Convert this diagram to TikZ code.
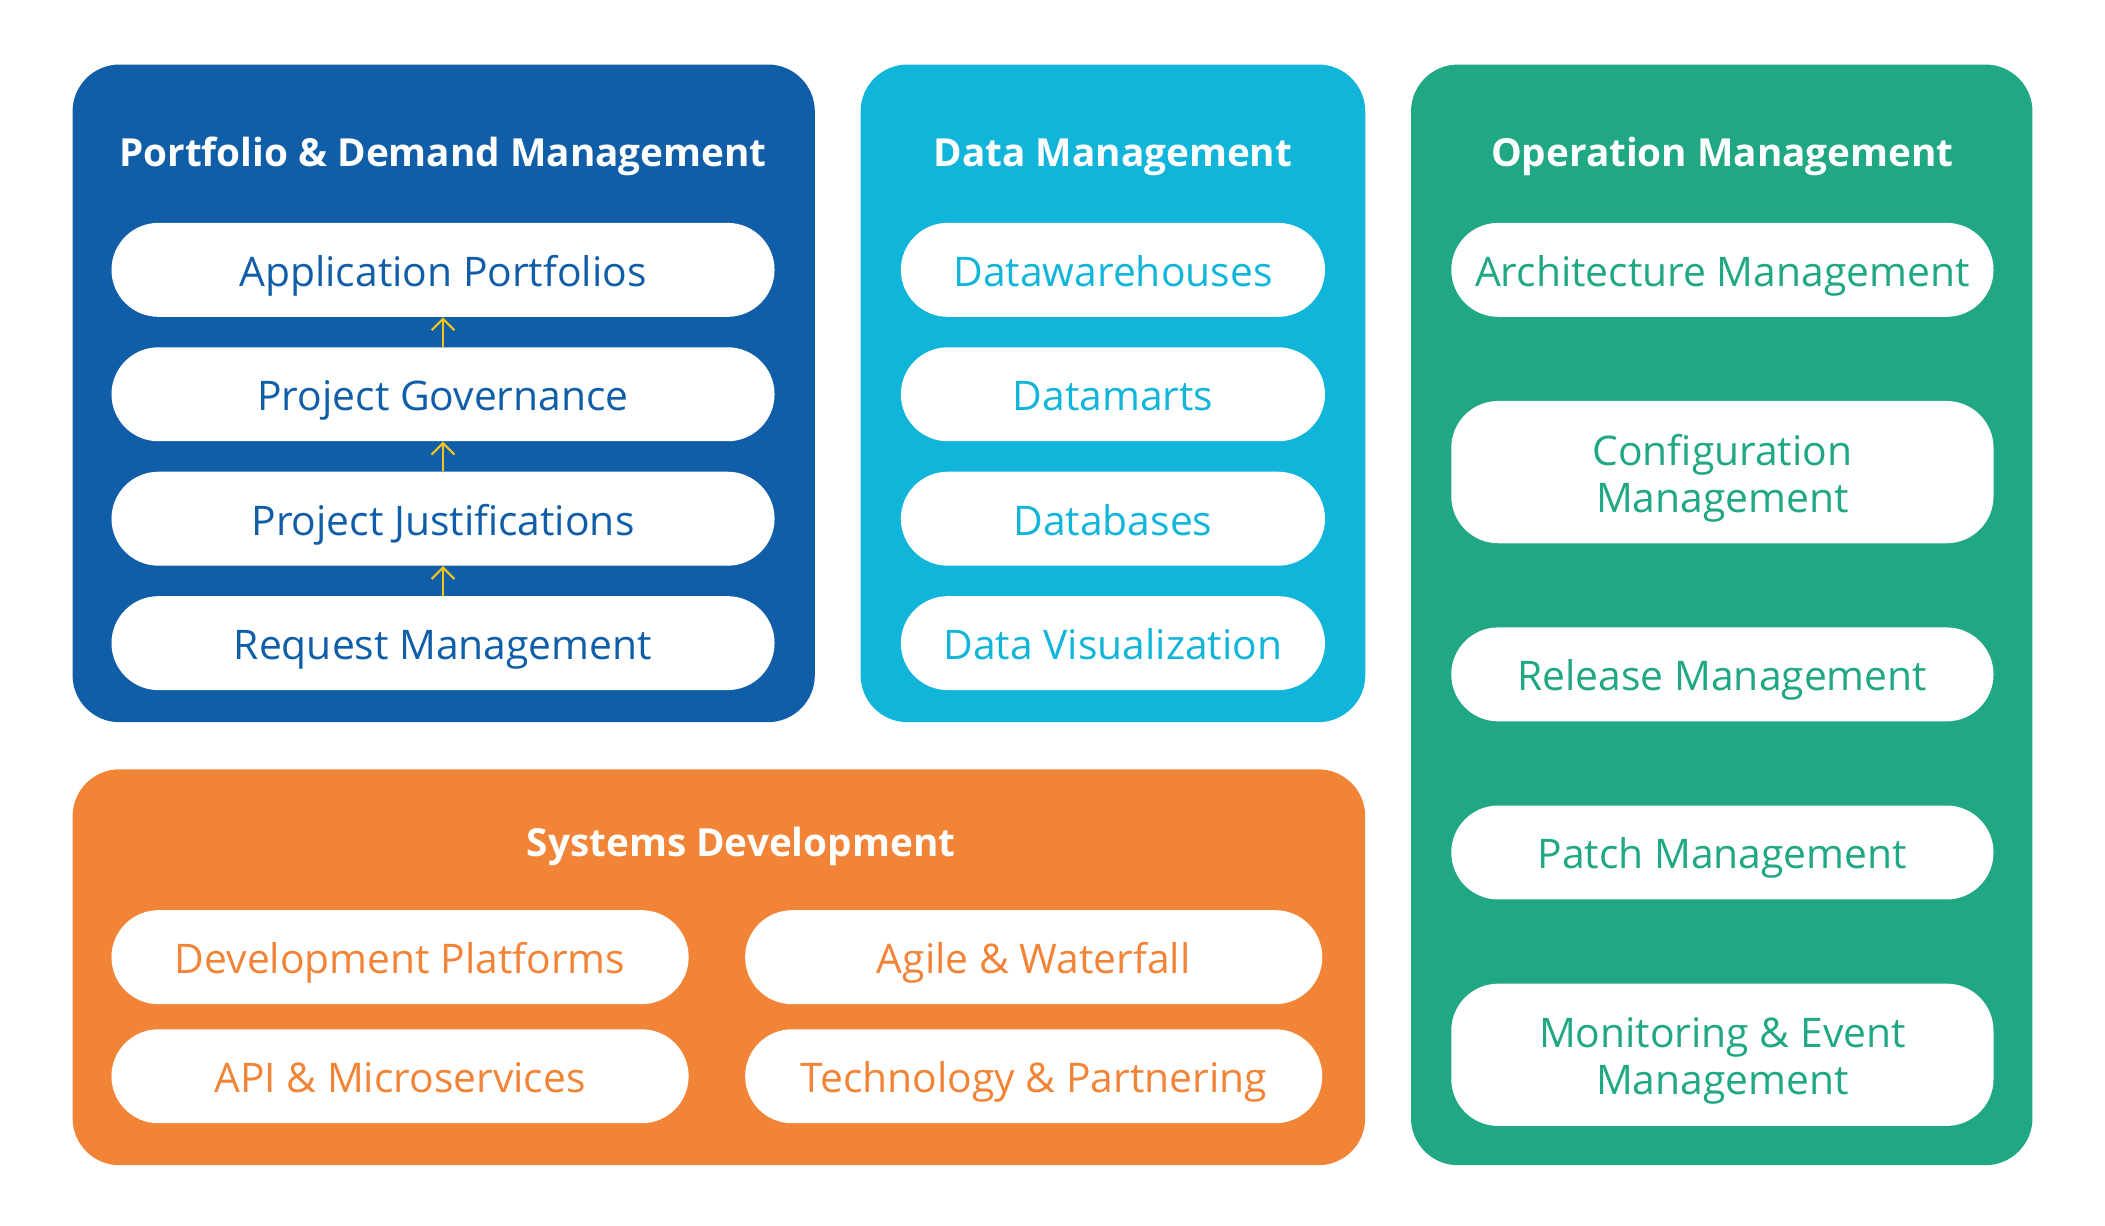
\documentclass[tikz,border=0pt]{standalone}
\usepackage{fontspec}
\setmainfont{Open Sans}
\usetikzlibrary{arrows.meta, positioning}

\definecolor{pdmblue}{HTML}{115EA8}
\definecolor{datacyan}{HTML}{12B5DA}
\definecolor{opgreen}{HTML}{20A783}
\definecolor{sysorange}{HTML}{F28437}
\definecolor{flowyellow}{HTML}{F5C518}

\begin{document}
\begin{tikzpicture}[
    x=0.02cm, y=-0.02cm,
    panel/.style={rectangle, rounded corners=0.7cm, inner sep=0pt},
    title/.style={text=white, font=\fontsize{16.4}{20}\selectfont\bfseries, text height=11.7pt, text depth=0pt},
    pill/.style={rectangle, rounded corners=0.7cm, fill=white, minimum height=1.4cm, align=center, font=\fontsize{17.3}{20}\selectfont, text height=13.9pt, text depth=0pt},
    tallpill/.style={pill, minimum height=2.12cm, text height=34pt},
    flow/.style={-{Straight Barb[length=1.7mm, width=3.4mm]}, flowyellow, line width=0.9pt}
]
\useasboundingbox (0,0) rectangle (1568,913);

% Panels
\node[panel, fill=pdmblue, minimum width=11.06cm, minimum height=9.8cm] (pdm) at (330.5,293) {};
\node[panel, fill=datacyan, minimum width=7.52cm, minimum height=9.8cm] (data) at (829,293) {};
\node[panel, fill=opgreen, minimum width=9.26cm, minimum height=16.4cm] (ops) at (1282.5,458) {};
\node[panel, fill=sysorange, minimum width=19.26cm, minimum height=5.9cm] (sys) at (535.5,720.5) {};

% Portfolio & Demand Management
\node[title] (pdmtitle) at (330,114) {Portfolio \& Demand Management};
\node[pill, text=pdmblue, minimum width=9.88cm] (appl) at (330,201) {Application Portfolios};
\node[pill, text=pdmblue, minimum width=9.88cm, below=0.44cm of appl] (gov) {Project Governance};
\node[pill, text=pdmblue, minimum width=9.88cm, below=0.44cm of gov] (just) {Project Justifications};
\node[pill, text=pdmblue, minimum width=9.88cm, below=0.44cm of just] (req) {Request Management};

\draw[flow] (req.north) -- (just.south);
\draw[flow] (just.north) -- (gov.south);
\draw[flow] (gov.north) -- (appl.south);

% Data Management
\node[title] (datatitle) at (829,114) {Data Management};
\node[pill, text=datacyan, minimum width=6.32cm] (dwh) at (829,201) {Datawarehouses};
\node[pill, text=datacyan, minimum width=6.32cm, below=0.44cm of dwh] (dmart) {Datamarts};
\node[pill, text=datacyan, minimum width=6.32cm, below=0.44cm of dmart] (dbase) {Databases};
\node[pill, text=datacyan, minimum width=6.32cm, below=0.44cm of dbase] (dvis) {Data Visualization};

% Operation Management
\node[title] (opstitle) at (1283,114) {Operation Management};
\node[pill, text=opgreen, minimum width=8.08cm] (arch) at (1283,201) {Architecture Management};
\node[tallpill, text=opgreen, minimum width=8.08cm, below=1.24cm of arch] (conf) {Configuration\\Management};
\node[pill, text=opgreen, minimum width=8.08cm, below=1.24cm of conf] (rel) {Release Management};
\node[pill, text=opgreen, minimum width=8.08cm, below=1.24cm of rel] (patch) {Patch Management};
\node[tallpill, text=opgreen, minimum width=8.08cm, below=1.24cm of patch] (mon) {Monitoring \& Event\\Management};

% Systems Development
\node[title] (systitle) at (552,628) {Systems Development};
\node[pill, text=sysorange, minimum width=8.6cm] (devp) at (298,713) {Development Platforms};
\node[pill, text=sysorange, minimum width=8.6cm] (agile) at (770,713) {Agile \& Waterfall};
\node[pill, text=sysorange, minimum width=8.6cm, below=0.36cm of devp] (apims) {API \& Microservices};
\node[pill, text=sysorange, minimum width=8.6cm, below=0.36cm of agile] (tech) {Technology \& Partnering};

\end{tikzpicture}
\end{document}
